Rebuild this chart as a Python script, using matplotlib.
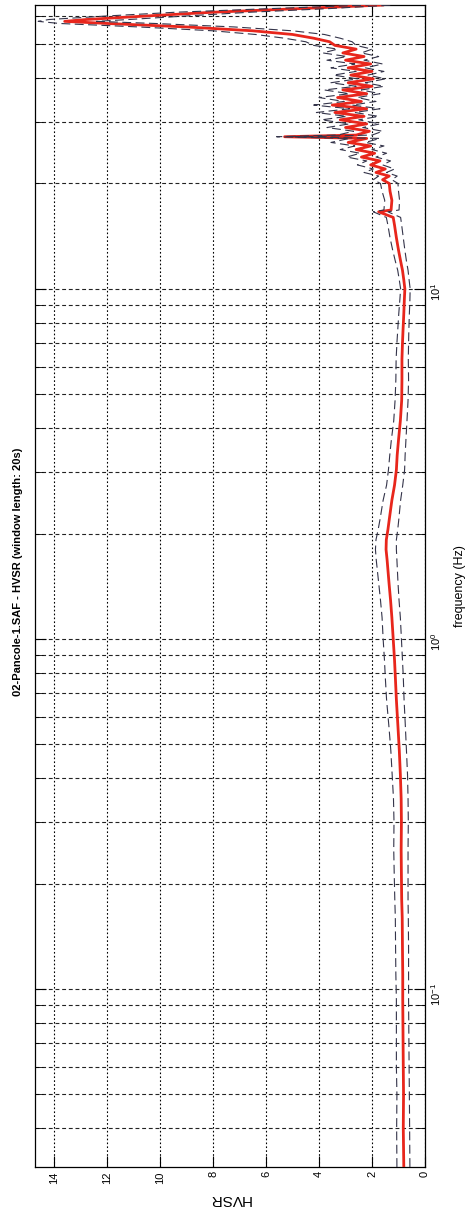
import matplotlib
matplotlib.use('Agg')
import matplotlib.pyplot as plt
from matplotlib.ticker import LogLocator, NullFormatter

plt.rcParams['font.family'] = ['Liberation Sans', 'DejaVu Sans']
plt.rcParams['mathtext.fontset'] = 'custom'
plt.rcParams['mathtext.rm'] = 'Liberation Sans'
plt.rcParams['mathtext.it'] = 'Liberation Sans'
plt.rcParams['mathtext.bf'] = 'Liberation Sans:bold'

# frequenza (Hz) e curva H/V media con +/- deviazione standard
freq = [0.031, 0.04, 0.05, 0.06, 0.075, 0.093, 0.11, 0.13, 0.16, 0.18,
        0.21, 0.25, 0.3, 0.35, 0.41, 0.48, 0.56, 0.67, 0.78, 0.87,
        1.0, 1.15, 1.29, 1.45, 1.68, 1.8, 1.92, 2.05, 2.19, 2.49,
        2.75, 3.04, 3.35, 3.7, 4.2, 4.8, 5.5, 6.3, 7.0, 7.6,
        8.5, 9.3, 10.0, 10.6, 11.3, 12.0, 12.9, 14.0, 15.2, 16.0,
        16.6, 16.8, 17.9, 19.0, 20.0, 20.5, 21.0, 21.5, 22.0, 22.6,
        23.2, 23.8, 24.4, 25.0, 25.6, 26.2, 26.9, 27.2, 27.5, 28.2,
        28.9, 29.6, 30.4, 31.1, 31.9, 32.7, 33.5, 34.3, 35.2, 36.1,
        37.0, 37.9, 38.8, 39.8, 40.8, 41.8, 42.8, 43.9, 45.0, 46.1,
        47.2, 48.4, 49.6, 50.8, 52.0, 53.3, 54.6, 56.0, 57.3, 58.1,
        58.8, 60.2, 61.7, 63.2, 64.7]

hvsr = [0.80, 0.82, 0.81, 0.82, 0.83, 0.84, 0.84, 0.85, 0.86, 0.88,
        0.89, 0.90, 0.89, 0.90, 0.93, 0.97, 1.02, 1.08, 1.12, 1.15,
        1.20, 1.25, 1.30, 1.36, 1.43, 1.47, 1.46, 1.40, 1.35, 1.25,
        1.15, 1.08, 1.05, 1.00, 0.93, 0.88, 0.87, 0.87, 0.85, 0.83,
        0.80, 0.78, 0.76, 0.80, 0.85, 0.92, 1.00, 1.08, 1.15, 1.20,
        1.75, 1.28, 1.25, 1.32, 1.35, 1.6, 1.35, 1.85, 1.5, 2.05,
        1.7, 2.4, 1.9, 2.6, 2.05, 2.9, 2.2, 5.3, 2.6, 2.1,
        3.0, 2.2, 3.2, 2.3, 3.4, 2.2, 3.5, 2.4, 3.3, 2.2,
        3.1, 2.0, 2.9, 1.95, 2.8, 2.0, 2.9, 2.05, 3.0, 2.3,
        3.1, 2.6, 3.4, 3.6, 4.2, 5.0, 6.5, 9.0, 12.0, 13.6,
        12.8, 10.5, 8.0, 4.7, 1.6]

hvsr_plus = [1.06, 1.07, 1.06, 1.08, 1.08, 1.08, 1.10, 1.11, 1.12, 1.14,
             1.16, 1.18, 1.17, 1.19, 1.24, 1.29, 1.36, 1.45, 1.50, 1.53,
             1.58, 1.62, 1.68, 1.75, 1.84, 1.87, 1.85, 1.77, 1.70, 1.58,
             1.45, 1.38, 1.33, 1.27, 1.18, 1.13, 1.10, 1.09, 1.06, 1.03,
             0.99, 0.95, 0.92, 0.97, 1.03, 1.12, 1.22, 1.32, 1.40, 1.46,
             1.95, 1.55, 1.52, 1.62, 1.68, 1.95, 1.75, 2.30, 1.95, 2.55,
             2.20, 2.95, 2.45, 3.20, 2.65, 3.55, 2.85, 5.60, 3.30, 2.70,
             3.70, 2.85, 3.90, 2.95, 4.10, 2.85, 4.20, 3.05, 4.00, 2.85,
             3.80, 2.60, 3.55, 2.55, 3.45, 2.60, 3.55, 2.65, 3.70, 2.95,
             3.85, 3.30, 4.20, 4.50, 5.30, 6.40, 8.00, 10.8, 13.8, 14.6,
             14.2, 12.0, 9.4, 5.8, 2.1]

hvsr_minus = [0.57, 0.58, 0.59, 0.60, 0.61, 0.62, 0.62, 0.62, 0.63, 0.64,
              0.64, 0.64, 0.63, 0.64, 0.66, 0.70, 0.74, 0.79, 0.82, 0.85,
              0.89, 0.93, 0.98, 1.02, 1.06, 1.08, 1.08, 1.03, 0.99, 0.92,
              0.84, 0.77, 0.75, 0.72, 0.68, 0.64, 0.62, 0.63, 0.62, 0.61,
              0.59, 0.57, 0.56, 0.60, 0.64, 0.70, 0.76, 0.82, 0.88, 0.92,
              1.40, 0.98, 0.96, 1.00, 1.02, 1.25, 1.05, 1.45, 1.15, 1.60,
              1.30, 1.85, 1.45, 2.00, 1.55, 2.25, 1.70, 4.90, 2.00, 1.60,
              2.35, 1.70, 2.50, 1.75, 2.65, 1.70, 2.75, 1.85, 2.55, 1.70,
              2.40, 1.55, 2.25, 1.50, 2.15, 1.55, 2.25, 1.60, 2.30, 1.75,
              2.40, 2.00, 2.60, 2.75, 3.20, 3.80, 5.00, 7.2, 10.2, 12.4,
              11.2, 9.0, 6.6, 3.6, 1.2]

hvsr_ticks = [0, 2, 4, 6, 8, 10, 12, 14]
title = '02-Pancole-1.SAF - HVSR (window length: 20s)'

# figura ruotata di 90 gradi: HVSR in orizzontale, frequenza in verticale
fig = plt.figure(figsize=(4.72, 12.14), dpi=100)
ax = fig.add_axes([35/472, 47/1214, 390/472, 1162/1214])

ax.plot(hvsr, freq, color='#e8261c', lw=2.0, zorder=3)
ax.plot(hvsr_plus, freq, color='#34344a', lw=0.8, ls=(0, (8, 4)), zorder=4)
ax.plot(hvsr_minus, freq, color='#34344a', lw=0.8, ls=(0, (8, 4)), zorder=4)

ax.set_yscale('log')
ax.set_ylim(0.031, 64.7)
ax.set_xlim(14.72, 0)
ax.set_xticks(hvsr_ticks)
ax.yaxis.set_major_locator(LogLocator(base=10))
ax.yaxis.set_minor_locator(LogLocator(base=10, subs=range(2, 10)))
ax.yaxis.set_minor_formatter(NullFormatter())

ax.set_axisbelow(True)
ax.grid(axis='x', which='major', color='black', ls=(0, (1.5, 2)), lw=0.8)
ax.grid(axis='y', which='both', color='#222222', ls=(0, (3.5, 2.5)), lw=0.8)

ax.tick_params(axis='x', direction='in', top=True, bottom=True, length=8,
               labelrotation=90, labelsize=8, pad=3)
ax.tick_params(axis='y', which='both', direction='in', left=True, right=True,
               labelleft=False, labelright=True, labelrotation=90, labelsize=8)
ax.tick_params(axis='y', which='major', length=8, pad=3)
ax.tick_params(axis='y', which='minor', length=6)
for s in ax.spines.values():
    s.set_linewidth(0.9)

ax.set_xlabel('HVSR', rotation=180, fontsize=11, labelpad=6)
ax.yaxis.set_label_position('right')
ax.set_ylabel('frequency (Hz)', rotation=90, fontsize=9, labelpad=8)
fig.text(18/472, 1 - 572/1214, title, rotation=90, ha='center', va='center',
         fontsize=8, fontweight='bold')

fig.savefig('out.png', dpi=100)
